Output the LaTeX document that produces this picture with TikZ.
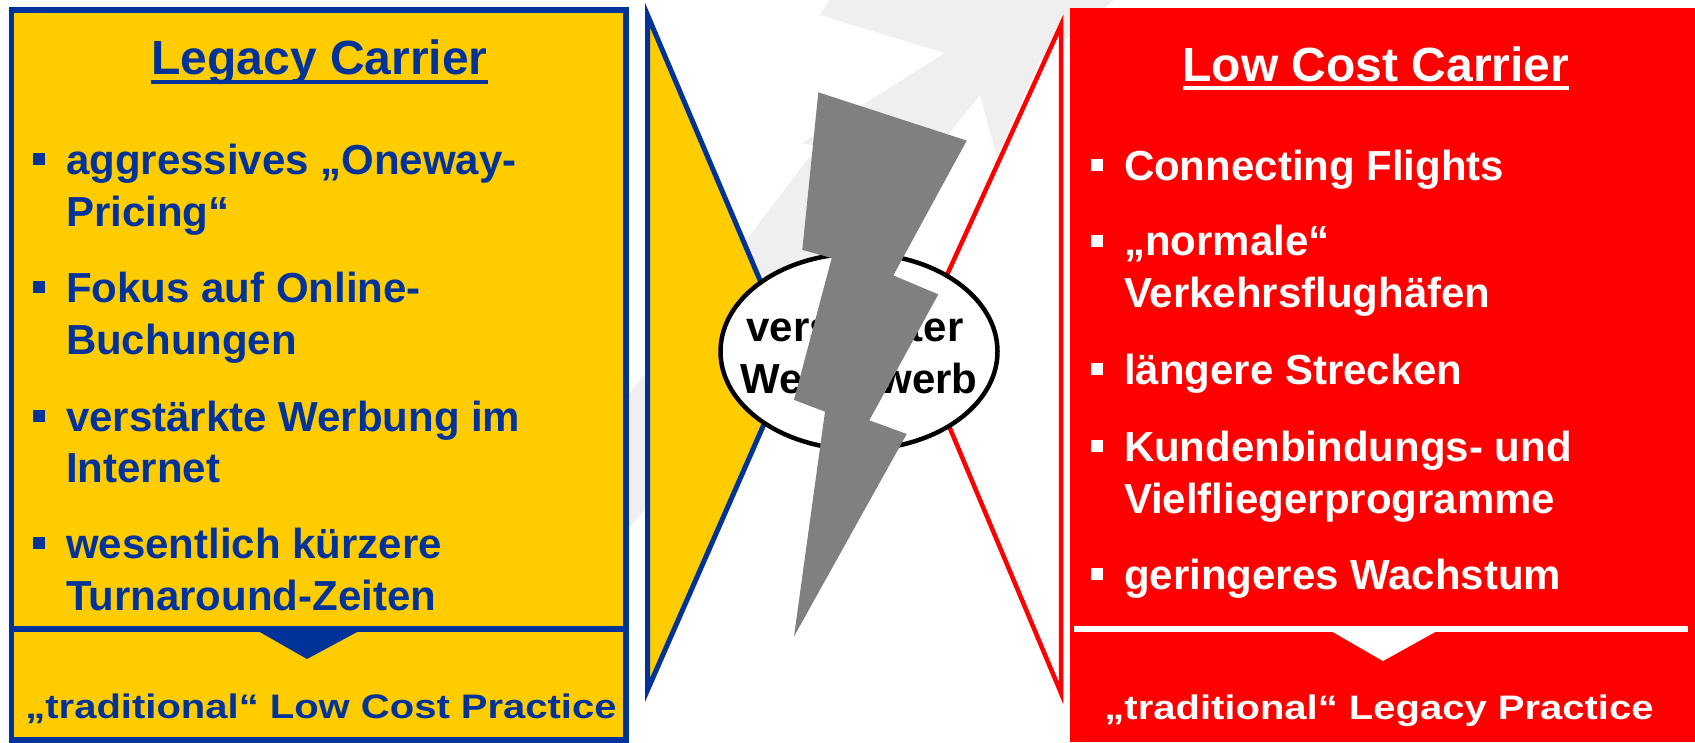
\documentclass[tikz,border=0pt]{standalone}
\usepackage{fontspec}
\setmainfont{Liberation Sans}
\usetikzlibrary{shapes.geometric}
\definecolor{lcyellow}{HTML}{FFCC00}
\definecolor{lcblue}{HTML}{003399}
\definecolor{lcred}{HTML}{FF0000}
\definecolor{boltgrey}{HTML}{808080}
\definecolor{wmgrey}{HTML}{EFEFEF}
\tikzset{
  bodyfont/.style={font=\fontsize{42}{50}\selectfont\bfseries, inner sep=0pt, outer sep=0pt},
  ltext/.style={bodyfont, text=lcblue, anchor=base west},
  rtext/.style={bodyfont, text=white, anchor=base west},
  mtext/.style={bodyfont, text=black, anchor=base},
  titlefont/.style={font=\fontsize{48}{56}\selectfont\bfseries, inner sep=0pt, outer sep=0pt, anchor=base},
  bottomfont/.style={font=\fontsize{40}{48}\selectfont\bfseries, inner sep=0pt, outer sep=0pt, anchor=base},
  lbullet/.style={rectangle, fill=lcblue, minimum size=12pt, inner sep=0pt},
  rbullet/.style={rectangle, fill=white, minimum size=12pt, inner sep=0pt},
}
\begin{document}
\begin{tikzpicture}[x=1pt,y=-1pt,line join=miter]
\useasboundingbox (0,0) rectangle (1695,742);
\fill[white] (0,0) rectangle (1695,742);
% faint watermark plane
\fill[wmgrey] (833,-5) -- (820,15) -- (945,53) -- (802,143) -- (817,147) -- (630,393)
  -- (585,460) -- (600,560) -- (645,510) -- (980,95) -- (997,157) -- (1040,60) -- (1120,-5) -- cycle;
% left box
\draw[draw=lcblue, line width=5.5pt, fill=lcyellow] (11.5,10) rectangle (626,740);
% right box
\fill[lcred] (1070,8) rectangle (1695,742);
% triangles
\draw[draw=lcblue, line width=5pt, fill=lcyellow] (647.5,15) -- (793,358) -- (647.5,690) -- cycle;
\draw[draw=lcred, line width=4.5pt, fill=white] (1061,25) -- (915,345) -- (1061,693) -- cycle;
% ellipse
\node[draw=black, line width=4.5pt, fill=white, ellipse, minimum width=277pt, minimum height=196pt, inner sep=0pt] (oval) at (859,351.5) {};
\node[mtext] (m1) at (855,341) {verstärkter};
\node[mtext] (m2) at (859,393) {Wettbewerb};
% lightning bolt
\fill[boltgrey] (818.3,92.3) -- (966.7,140.6) -- (893.3,275.4) -- (938.3,294.4) -- (869.3,420.3)
  -- (906.7,434) -- (794,636.5) -- (825,411.7) -- (794,399.9) -- (831.7,258) -- (802.3,249.9) -- cycle;
% titles
\node[titlefont, text=lcblue] (lt) at (319.5,74) {Legacy Carrier};
\draw[lcblue, line width=4pt] ([yshift=-8pt]lt.base west) -- ([yshift=-8pt]lt.base east);
\node[titlefont, text=white] (rt) at (1376,81) {Low Cost Carrier};
\draw[white, line width=4pt] ([yshift=-7pt]rt.base west) -- ([yshift=-7pt]rt.base east);
% left bullets
\node[lbullet] (lb1) at (39,159) {};
\node[lbullet] (lb2) at (39,287) {};
\node[lbullet] (lb3) at (39,416) {};
\node[lbullet] (lb4) at (39,543) {};
\node[ltext] (l1a) at (66,174) {aggressives „Oneway-};
\node[ltext] (l1b) at (66,226) {Pricing“};
\node[ltext] (l2a) at (66,302) {Fokus auf Online-};
\node[ltext] (l2b) at (66,354) {Buchungen};
\node[ltext] (l3a) at (66,431) {verstärkte Werbung im};
\node[ltext] (l3b) at (66,482) {Internet};
\node[ltext] (l4a) at (66,558) {wesentlich kürzere};
\node[ltext] (l4b) at (66,610) {Turnaround-Zeiten};
% right bullets
\node[rbullet] (rb1) at (1096.5,165) {};
\node[rbullet] (rb2) at (1096.5,240.5) {};
\node[rbullet] (rb3) at (1096.5,369) {};
\node[rbullet] (rb4) at (1096.5,446) {};
\node[rbullet] (rb5) at (1096.5,574) {};
\node[rtext] (r1) at (1124,180) {Connecting Flights};
\node[rtext] (r2a) at (1124,255.5) {„normale“};
\node[rtext] (r2b) at (1124,307.6) {Verkehrsflughäfen};
\node[rtext] (r3) at (1124,384) {längere Strecken};
\node[rtext] (r4a) at (1124,461) {Kundenbindungs- und};
\node[rtext] (r4b) at (1124,513.5) {Vielfliegerprogramme};
\node[rtext] (r5) at (1124,589) {geringeres Wachstum};
% separators with down triangles
\coordinate (lsepL) at (14,629);
\coordinate (lsepR) at (624,629);
\draw[lcblue, line width=6pt] (lsepL) -- (lsepR);
\fill[lcblue] (258,631) -- (359,631) -- (307,659) -- cycle;
\coordinate (rsepL) at (1074,629);
\coordinate (rsepR) at (1688,629);
\draw[white, line width=6pt] (rsepL) -- (rsepR);
\fill[white] (1331,631) -- (1437,631) -- (1383,661) -- cycle;
% bottom texts
\node[bottomfont, text=lcblue] (lbt) at (321,718) {\scalebox{1}[0.85]{„traditional“ Low Cost Practice}};
\node[bottomfont, text=white] (rbt) at (1379,719) {\scalebox{1}[0.85]{„traditional“ Legacy Practice}};
\end{tikzpicture}
\end{document}
